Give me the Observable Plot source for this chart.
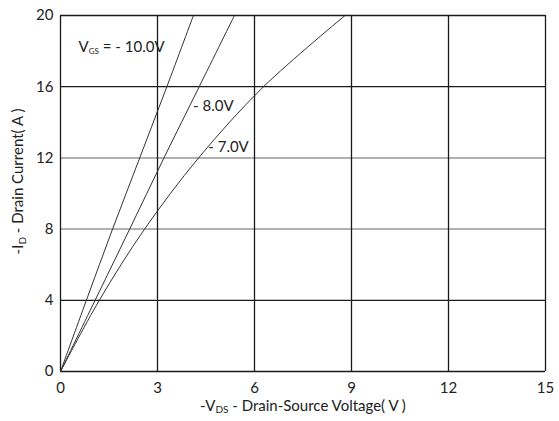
<!DOCTYPE html>
<html>
<head>
<meta charset="utf-8">
<script src="https://cdn.jsdelivr.net/npm/d3@7"></script>
<script src="https://cdn.jsdelivr.net/npm/@observablehq/plot@0.6"></script>
<style>
  html, body { margin: 0; padding: 0; background: #fff; }
  #chart svg { display: block; }
</style>
</head>
<body>
<div id="chart"></div>
<script>
// Data
const currents = [0, 4, 8, 12, 16, 20];           // -I_D (A)
const vds_10 = [0, 0.8, 1.61, 2.45, 3.29, 4.11];  // VGS = -10.0 V
const vds_8  = [0, 1.07, 2.14, 3.2, 4.29, 5.38];  // VGS = -8.0 V
const vds_7  = [0, 1.2, 2.6, 4.27, 6.28, 8.8];    // VGS = -7.0 V
const seriesNames = ["-10.0V", "-8.0V", "-7.0V"];
const xTicks = [0, 3, 6, 9, 12, 15];
const yTicks = [0, 4, 8, 12, 16, 20];
const yGridDark = [0, 4, 16, 20];
const yGridLight = [8, 12];
const xGrid = [3, 6, 9, 12, 15];
const labelTexts = ["VGS = - 10.0V", "- 8.0V", "- 7.0V"];
const labelX = [0.56, 4.1, 4.57];
const labelY = [18.2, 14.9, 12.6];

const curves = [vds_10, vds_8, vds_7].flatMap((arr, s) =>
  arr.map((v, i) => ({series: seriesNames[s], vds: v, id: currents[i]})));
const labels = labelTexts.map((t, i) => ({text: t, x: labelX[i], y: labelY[i]}));

const font = "Lato, 'Open Sans', sans-serif";

const chart = Plot.plot({
  width: 559,
  height: 421,
  marginTop: 15,
  marginRight: 14,
  marginBottom: 50,
  marginLeft: 60,
  style: {fontFamily: font, fontSize: "15px", color: "#222", background: "#fff"},
  x: {domain: [0, 15], ticks: xTicks, tickSize: 0, tickPadding: 11,
      label: "-VDS - Drain-Source Voltage( V )", labelAnchor: "center", labelOffset: 39},
  y: {domain: [0, 20], ticks: yTicks, tickSize: 0, tickPadding: 7,
      label: "-ID - Drain Current( A )", labelAnchor: "center", labelOffset: 48},
  marks: [
    Plot.ruleY(yGridLight, {stroke: "#b0b0b0", strokeWidth: 2}),
    Plot.ruleY(yGridDark, {stroke: "#1a1a1a", strokeWidth: 1.3}),
    Plot.ruleX(xGrid, {stroke: "#1a1a1a", strokeWidth: 1.3}),
    Plot.ruleX([0], {stroke: "#1a1a1a", strokeWidth: 1.3}),
    Plot.line(curves, {x: "vds", y: "id", z: "series", curve: "catmull-rom",
      stroke: "#333", strokeWidth: 1}),
    Plot.text(labels, {x: "x", y: "y", text: "text", textAnchor: "start",
      fontSize: 15, fill: "#222"})
  ]
});

document.getElementById("chart").appendChild(chart);

// Subscript post-processing
function subscript(el, parts) {
  el.textContent = "";
  let shifted = 0;
  parts.forEach(([txt, sub, size, shift]) => {
    const ts = document.createElementNS("http://www.w3.org/2000/svg", "tspan");
    ts.textContent = txt;
    if (sub) {
      ts.setAttribute("font-size", size);
      ts.setAttribute("dy", shift);
      shifted = shift;
    } else if (shifted) {
      ts.setAttribute("dy", -shifted);
      shifted = 0;
    }
    el.appendChild(ts);
  });
}
d3.select(chart).selectAll("text").each(function() {
  const t = this.textContent.replace(/[\u2190-\u2193]/g, "").trim();
  if (t.startsWith("-VDS"))
    subscript(this, [["-V", false], ["DS", true, 10, 2], [" - Drain-Source Voltage( V )", false]]);
  else if (t.startsWith("-ID")) {
    subscript(this, [["-I", false], ["D", true, 10, 3], [" - Drain Current( A )", false]]);
    this.setAttribute("dx", 12);
  }
  else if (t === "VGS = - 10.0V")
    subscript(this, [["V", false], ["GS", true, 8, 2], [" = - 10.0V", false]]);
});
</script>
</body>
</html>
